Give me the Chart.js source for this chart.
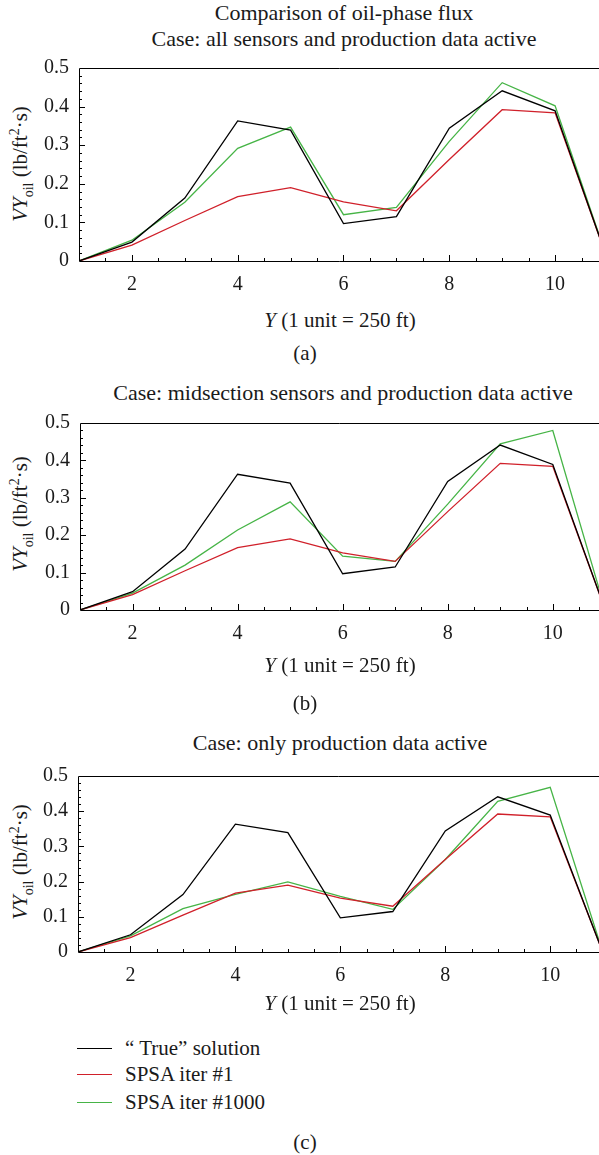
<!DOCTYPE html>
<html>
<head>
<meta charset="utf-8">
<script src="https://cdn.jsdelivr.net/npm/chart.js@4.4.1/dist/chart.umd.min.js"></script>
<style>
  body { margin: 0; width: 599px; height: 1155px; background: #fff; position: relative; overflow: hidden;
         font-family: "Liberation Serif", serif; color: #1a1a1a; }
  .t { position: absolute; white-space: nowrap; transform: translate(-50%, -50%); font-size: 21px; }
  .h { font-size: 22px; }
  .yl { position: absolute; white-space: nowrap; transform: translate(-50%, -50%) rotate(-90deg); font-size: 21px; }
  .yl sub, .yl sup { font-size: 14px; }
  .leg { position: absolute; left: 125px; white-space: nowrap; font-size: 21px; transform: translateY(-50%); }
  .sw { position: absolute; left: 77px; width: 35px; height: 0; border-top: 1.3px solid #000; }
  canvas { position: absolute; left: 0; }
</style>
</head>
<body>

<div class="t h" style="left:344px;top:13px">Comparison of oil-phase flux</div>
<div class="t h" style="left:344px;top:39px">Case: all sensors and production data active</div>
<div class="yl" style="left:22px;top:164px"><i>VΥ</i><sub>oil</sub> (lb/ft<sup>2</sup>·s)</div>
<canvas id="chartA" width="599" height="260" style="top:46px"></canvas>
<div class="t" style="left:340px;top:320px"><i>Υ</i> (1 unit = 250 ft)</div>
<div class="t" style="left:305px;top:353px">(a)</div>

<div class="t h" style="left:343px;top:393px">Case: midsection sensors and production data active</div>
<div class="yl" style="left:22px;top:514px"><i>VΥ</i><sub>oil</sub> (lb/ft<sup>2</sup>·s)</div>
<canvas id="chartB" width="599" height="254" style="top:401px"></canvas>
<div class="t" style="left:340px;top:665px"><i>Υ</i> (1 unit = 250 ft)</div>
<div class="t" style="left:305px;top:703px">(b)</div>

<div class="t h" style="left:340px;top:743px">Case: only production data active</div>
<div class="yl" style="left:22px;top:862px"><i>VΥ</i><sub>oil</sub> (lb/ft<sup>2</sup>·s)</div>
<canvas id="chartC" width="599" height="243" style="top:754px"></canvas>
<div class="t" style="left:340px;top:1003px"><i>Υ</i> (1 unit = 250 ft)</div>

<div class="sw" style="top:1048px;border-color:#000"></div>
<div class="leg" style="top:1048px">“ True” solution</div>
<div class="sw" style="top:1074px;border-color:#d0202a"></div>
<div class="leg" style="top:1074px">SPSA iter #1</div>
<div class="sw" style="top:1102px;border-color:#46b446"></div>
<div class="leg" style="top:1102px">SPSA iter #1000</div>
<div class="t" style="left:305px;top:1142px">(c)</div>

<script>
// grid position along the reservoir (1 unit = 250 ft)
const xValues = [1, 2, 3, 4, 5, 6, 7, 8, 9, 10, 11];
const xTickLabels = [2, 4, 6, 8, 10];
const yTickLabels = [0, 0.1, 0.2, 0.3, 0.4, 0.5];

const trueSolution = [0, 0.049, 0.163, 0.363, 0.339, 0.097, 0.115, 0.344, 0.441, 0.389, 0];
const spsaIter1    = [0, 0.041, 0.105, 0.167, 0.190, 0.153, 0.130, 0.263, 0.392, 0.384, 0];
// SPSA iter #1000 for each case
const iter1000All  = [0, 0.054, 0.152, 0.292, 0.347, 0.120, 0.139, 0.310, 0.462, 0.402, 0];
const iter1000Mid  = [0, 0.045, 0.120, 0.214, 0.289, 0.144, 0.130, 0.283, 0.444, 0.480, 0];
const iter1000Prod = [0, 0.046, 0.123, 0.164, 0.199, 0.158, 0.121, 0.263, 0.428, 0.468, 0];

const FONT = { family: '"Liberation Serif", serif', size: 20 };

// frame (top, left, bottom) plus inward tick marks
const framePlugin = {
  id: 'frame',
  afterDraw(chart) {
    const { ctx, chartArea: a, scales: { x, y } } = chart;
    ctx.save();
    ctx.strokeStyle = '#000';
    ctx.lineWidth = 1;
    ctx.beginPath();
    ctx.moveTo(a.right, a.top + 0.5);
    ctx.lineTo(a.left + 0.5, a.top + 0.5);
    ctx.lineTo(a.left + 0.5, a.bottom + 0.5);
    ctx.lineTo(a.right, a.bottom + 0.5);
    for (let i = 2; i / 2 <= x.max; i++) {
      const v = i / 2;
      const px = Math.round(x.getPixelForValue(v)) + 0.5;
      const len = v % 2 === 0 ? 6 : 3;
      ctx.moveTo(px, a.bottom);
      ctx.lineTo(px, a.bottom - len);
    }
    for (let i = 1; i < 25; i++) {
      const py = Math.round(y.getPixelForValue(i * 0.02)) + 0.5;
      const len = i % 5 === 0 ? 6 : 3;
      ctx.moveTo(a.left, py);
      ctx.lineTo(a.left + len, py);
    }
    ctx.stroke();
    ctx.restore();
  }
};

function pts(vals) {
  return xValues.map((x, i) => ({ x: x, y: vals[i] }));
}

function makeChart(id, greenVals, leftPx, xMax) {
  const ctx = document.getElementById(id).getContext('2d');
  new Chart(ctx, {
    type: 'line',
    data: {
      datasets: [
        { label: '“ True” solution', data: pts(trueSolution), borderColor: '#000' },
        { label: 'SPSA iter #1', data: pts(spsaIter1), borderColor: '#d0202a' },
        { label: 'SPSA iter #1000', data: pts(greenVals), borderColor: '#46b446' }
      ]
    },
    options: {
      responsive: false,
      animation: false,
      events: [],
      layout: { padding: { top: 14, left: 0, right: 0, bottom: 0 } },
      elements: { point: { radius: 0 }, line: { borderWidth: 1.3, tension: 0 } },
      plugins: { legend: { display: false }, tooltip: { enabled: false } },
      scales: {
        x: {
          type: 'linear', min: 1, max: xMax,
          grid: { display: false, drawTicks: false }, border: { display: false },
          afterBuildTicks: s => { s.ticks = xTickLabels.map(v => ({ value: v })); },
          afterFit: s => { s.height = 45; },
          ticks: { color: '#1a1a1a', font: FONT, padding: 12, maxRotation: 0, autoSkip: false,
                   callback: v => String(v) }
        },
        y: {
          min: 0, max: 0.5,
          grid: { display: false, drawTicks: false }, border: { display: false },
          afterBuildTicks: s => { s.ticks = yTickLabels.map(v => ({ value: v })); },
          afterFit: s => { s.width = leftPx; },
          ticks: { color: '#1a1a1a', font: FONT, padding: 10,
                   callback: v => v === 0 ? '0' : v.toFixed(1) }
        }
      }
    },
    plugins: [framePlugin]
  });
}

makeChart('chartA', iter1000All, 79, 10.83);
makeChart('chartB', iter1000Mid, 80, 10.88);
makeChart('chartC', iter1000Prod, 78, 10.93);
</script>
</body>
</html>
